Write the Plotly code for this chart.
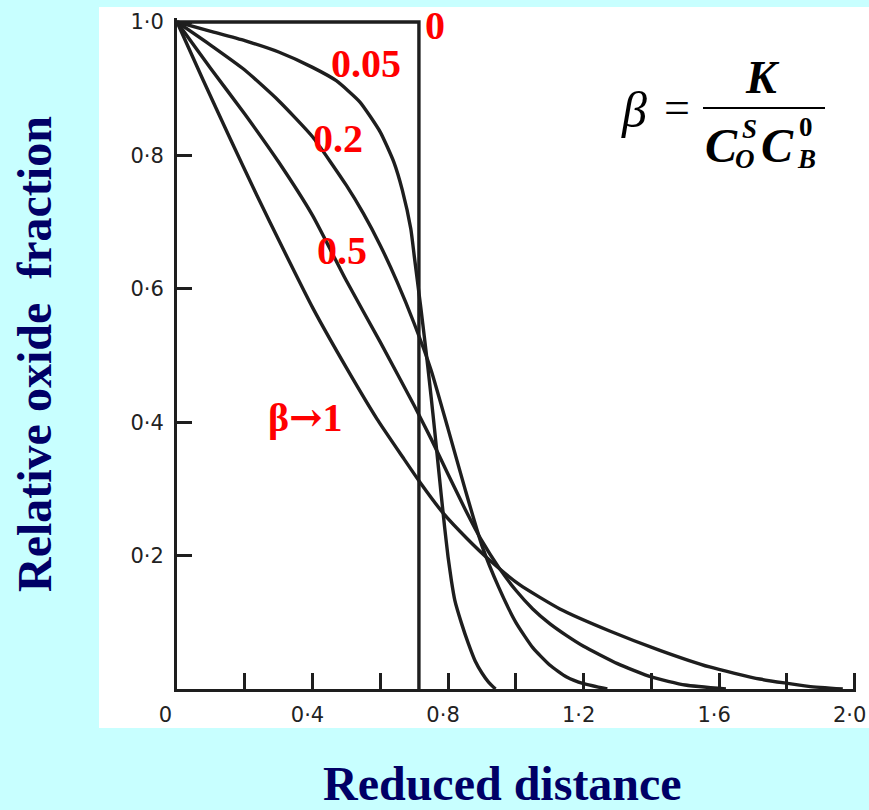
import plotly.graph_objects as go

# ---------------- data ----------------
x_b0 = [0, 0.714, 0.714]
y_b0 = [1, 1, 0]

x_b005 = [0, 0.1, 0.2, 0.3, 0.4, 0.47, 0.54, 0.60, 0.64, 0.665, 0.69, 0.70, 0.71, 0.72, 0.73,
          0.74, 0.75, 0.76, 0.77, 0.78, 0.79, 0.80, 0.81, 0.82, 0.84, 0.86, 0.88, 0.90, 0.92, 0.94]
y_b005 = [1, 0.986, 0.972, 0.955, 0.932, 0.912, 0.880, 0.835, 0.79, 0.748, 0.690, 0.650, 0.610,
          0.570, 0.528, 0.484, 0.438, 0.390, 0.340, 0.290, 0.242, 0.198, 0.162, 0.133, 0.098,
          0.068, 0.042, 0.024, 0.010, 0.0]

x_b02 = [0, 0.1, 0.2, 0.3, 0.4, 0.5, 0.55, 0.6, 0.65, 0.7, 0.75, 0.8, 0.85, 0.9, 0.95,
         1.0, 1.05, 1.1, 1.15, 1.2, 1.27]
y_b02 = [1, 0.965, 0.928, 0.882, 0.828, 0.755, 0.713, 0.665, 0.61, 0.548, 0.478, 0.39, 0.30,
         0.215, 0.152, 0.10, 0.062, 0.036, 0.018, 0.008, 0.0]

x_b05 = [0, 0.1, 0.2, 0.3, 0.4, 0.5, 0.6, 0.7, 0.75, 0.8, 0.85, 0.9, 0.95, 1.0, 1.05, 1.1,
         1.15, 1.2, 1.3, 1.4, 1.5, 1.62]
y_b05 = [1, 0.93, 0.862, 0.79, 0.71, 0.612, 0.52, 0.425, 0.375, 0.322, 0.27, 0.222, 0.182,
         0.148, 0.12, 0.098, 0.08, 0.064, 0.038, 0.018, 0.006, 0.0]

x_b1 = [0, 0.077, 0.156, 0.236, 0.313, 0.401, 0.504, 0.590, 0.667, 0.717, 0.785, 0.855, 0.923,
        1.012, 1.130, 1.277, 1.425, 1.572, 1.720, 1.864, 1.965]
y_b1 = [1, 0.913, 0.826, 0.740, 0.660, 0.571, 0.478, 0.405, 0.347, 0.310, 0.264, 0.226, 0.193,
        0.156, 0.120, 0.087, 0.058, 0.033, 0.015, 0.004, 0.0]

NB = "\u00a0"
x_tickvals = [0, 0.2, 0.4, 0.6, 0.8, 1.0, 1.2, 1.4, 1.6, 1.8, 2.0]
x_ticktext = ["0" + NB * 2, "", "0·4", "", "0·8", "", "1·2", "", "1·6", "", "2·0"]
y_tickvals = [0.2, 0.4, 0.6, 0.8, 1.0]
y_ticktext = ["0·2", "0·4", "0·6", "0·8", "1·0"]

curve_labels = ["0", "0.05", "0.2", "0.5",
                "β<span style='font-family:DejaVu Serif'>→</span>1"]
label_x = [0.761, 0.558, 0.475, 0.487, 0.378]
label_y = [0.995, 0.9385, 0.826, 0.658, 0.409]

# ---------------- figure ----------------
INK = "#1e1e1e"
NAVY = "#000066"
fig = go.Figure()

fig.add_trace(go.Scatter(x=x_b0, y=y_b0, mode="lines",
                         line=dict(color=INK, width=3.4), hoverinfo="skip", showlegend=False))
for xs, ys in [(x_b005, y_b005), (x_b02, y_b02), (x_b05, y_b05), (x_b1, y_b1)]:
    fig.add_trace(go.Scatter(x=xs, y=ys, mode="lines",
                             line=dict(color=INK, width=3.4, shape="spline", smoothing=0.5),
                             hoverinfo="skip", showlegend=False))

W, H = 869, 810
L, R, T, B = 177, 13, 18, 121
pw, ph = W - L - R, H - T - B


def px(X):
    return (X - L) / pw


def py(Y):
    return (H - B - Y) / ph


annotations = []
for t, xv, yv in zip(curve_labels, label_x, label_y):
    annotations.append(dict(x=xv, y=yv, xref="x", yref="y", text="<b>" + t + "</b>",
                            showarrow=False, xanchor="center", yanchor="middle",
                            font=dict(family="Liberation Serif", size=40, color="#FF0000")))

# axis titles
annotations.append(dict(x=px(35), y=py(354), xref="paper", yref="paper",
                        text="<b>Relative oxide\u00a0 fraction</b>", textangle=-90,
                        showarrow=False, xanchor="center", yanchor="middle",
                        font=dict(family="Liberation Serif", size=48, color=NAVY)))
annotations.append(dict(x=px(502), y=py(783), xref="paper", yref="paper",
                        text="<b>Reduced distance</b>",
                        showarrow=False, xanchor="center", yanchor="middle",
                        font=dict(family="Liberation Serif", size=48, color=NAVY)))


# formula pieces
def fpart(text, X, Y, size, italic=True, bold=True):
    t = text
    if italic:
        t = "<i>" + t + "</i>"
    if bold:
        t = "<b>" + t + "</b>"
    annotations.append(dict(x=px(X), y=py(Y), xref="paper", yref="paper", text=t,
                            showarrow=False, xanchor="center", yanchor="middle",
                            font=dict(family="Liberation Serif", size=size, color="black")))


fpart("β", 634, 110, 50, italic=True, bold=False)
fpart("=", 677, 108, 46, italic=False, bold=False)
fpart("K", 762, 78, 46)
fpart("C", 721, 145, 48)
fpart("S", 749, 129, 27)
fpart("O", 745, 159, 27)
fpart("C", 777, 145, 48)
fpart("0", 806, 127, 27, italic=False)
fpart("B", 806, 159, 27)

shapes = [
    dict(type="rect", xref="paper", yref="paper", x0=px(99), x1=px(869), y0=py(728), y1=py(7),
         fillcolor="white", line=dict(width=0), layer="below"),
    dict(type="line", xref="paper", yref="paper", x0=px(703), x1=px(825), y0=py(108), y1=py(108),
         line=dict(color="black", width=2)),
]

fig.update_layout(
    width=W, height=H,
    autosize=False,
    margin=dict(l=L, r=R, t=T, b=B, pad=0, autoexpand=False),
    paper_bgcolor="#C8FFFF",
    plot_bgcolor="white",
    showlegend=False,
    annotations=annotations,
    shapes=shapes,
    xaxis=dict(range=[0, 2.004], showgrid=False, zeroline=False, showline=True,
               automargin=False,
               linecolor=INK, linewidth=3, ticks="inside", ticklen=16, tickwidth=3,
               tickcolor=INK, tickvals=x_tickvals, ticktext=x_ticktext,
               ticklabelstandoff=5, ticklabelshift=-5, ticklabeloverflow="allow",
               tickfont=dict(family="DejaVu Sans", size=21, color="#222222")),
    yaxis=dict(range=[0, 1.006], showgrid=False, zeroline=False, showline=True,
               automargin=False,
               linecolor=INK, linewidth=3, ticks="inside", ticklen=15, tickwidth=3,
               tickcolor=INK, tickvals=y_tickvals, ticktext=y_ticktext,
               ticklabelstandoff=6,
               tickfont=dict(family="DejaVu Sans", size=21, color="#222222")),
)

fig.write_html("out.html")
